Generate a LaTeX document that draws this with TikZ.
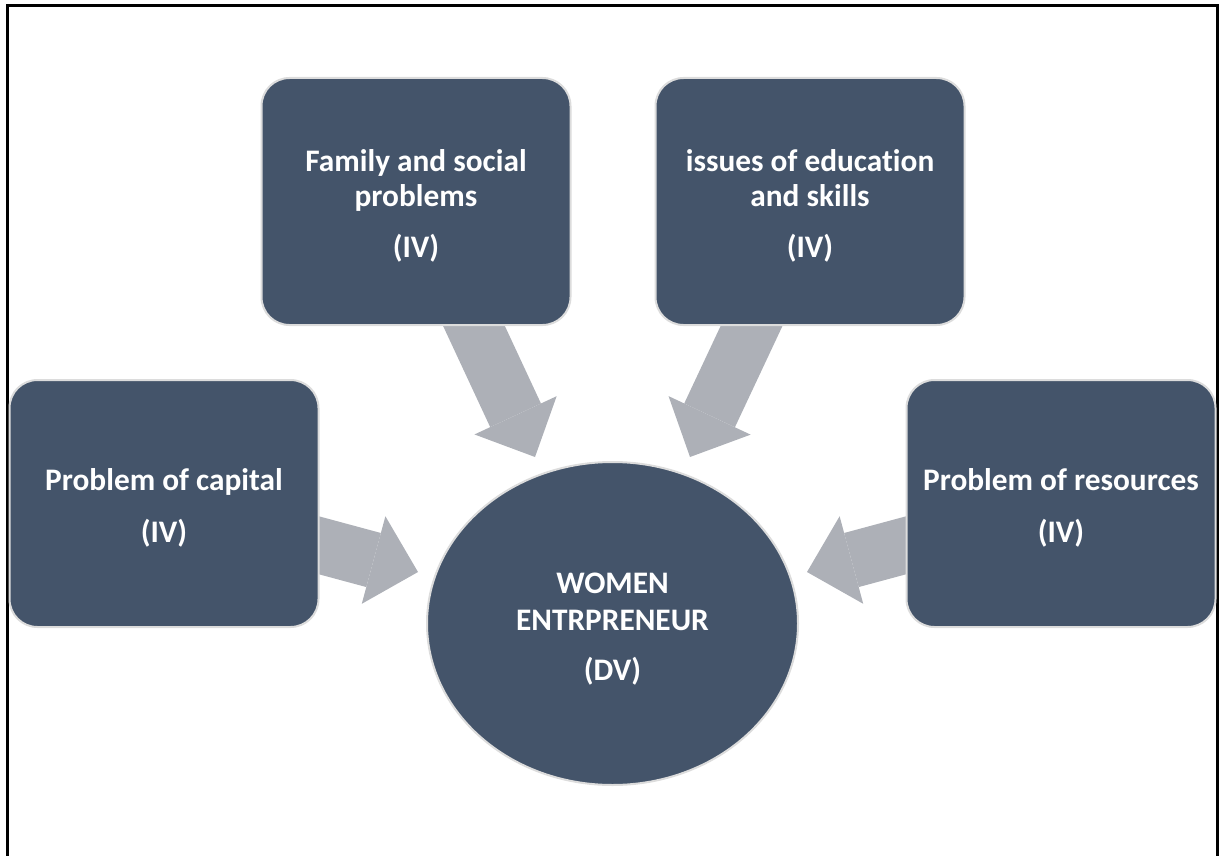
\documentclass[tikz,border=0pt]{standalone}
\usepackage{fontspec}
\setmainfont{Carlito}[Ligatures=NoCommon]
\usetikzlibrary{arrows.meta,shapes.geometric}
\definecolor{slate}{HTML}{44546A}
\definecolor{arrowgrey}{HTML}{ADB0B7}
\definecolor{rim}{HTML}{DCDCDC}
\pgfdeclarelayer{background}
\pgfsetlayers{background,main}
\begin{document}
\begin{tikzpicture}[x=0.75pt,y=-0.75pt,
  labeltext/.style={text=white, font=\fontsize{23.5}{26.5}\selectfont\bfseries,
    align=center, inner sep=0pt},
  factor/.style={rectangle, rounded corners=21pt, fill=slate, draw=rim, line width=1.5pt,
    minimum width=231.75pt, minimum height=185.25pt, inner sep=0pt},
  outcome/.style={ellipse, fill=slate, draw=rim, line width=1.5pt,
    minimum width=278.25pt, minimum height=242.25pt, inner sep=0pt},
  influence/.style={draw=arrowgrey, line width=42pt,
    -{Triangle[length=34.5pt,width=68pt,line width=0pt]}}
]
\useasboundingbox (0,0) rectangle (1220,856);
\clip (0,0) rectangle (1220,856);

% page frame, open at the bottom edge
\draw[line width=2.25pt] (7.5,880) -- (7.5,6) -- (1217,6) -- (1217,880);

% independent variables
\node[factor] (family)    at (416,201.5)  {};
\node[factor] (education) at (810,201.5)  {};
\node[factor] (capital)   at (164,503.5)  {};
\node[factor] (resources) at (1061,503.5) {};

% dependent variable
\node[outcome] (women) at (612.5,623.5) {};

% captions
\node[labeltext] (familytext)    at ([yshift=-3.2pt]family.center)    {Family and social\\ problems\\[12pt] (IV)};
\node[labeltext] (educationtext) at ([yshift=-3.2pt]education.center) {issues of education\\ and skills\\[12pt] (IV)};
\node[labeltext] (capitaltext)   at ([yshift=-3.4pt]capital.center)   {Problem of capital\\[12pt] (IV)};
\node[labeltext] (resourcestext) at ([yshift=-3.4pt]resources.center) {Problem of resources\\[12pt] (IV)};
\node[labeltext] (womentext)     at ([yshift=-4pt]women.center)       {WOMEN\\[1.5pt] ENTRPRENEUR\\[11pt] (DV)};

% arrow tips just short of the ellipse
\coordinate (tipFamily)    at (535,457);
\coordinate (tipEducation) at (690,457);
\coordinate (tipCapital)   at (418,572);
\coordinate (tipResources) at (807,572);

\begin{pgfonlayer}{background}
  \draw[influence] (family.center)    -- (tipFamily);
  \draw[influence] (education.center) -- (tipEducation);
  \draw[influence] (capital.center)   -- (tipCapital);
  \draw[influence] (resources.center) -- (tipResources);
\end{pgfonlayer}
\end{tikzpicture}
\end{document}
